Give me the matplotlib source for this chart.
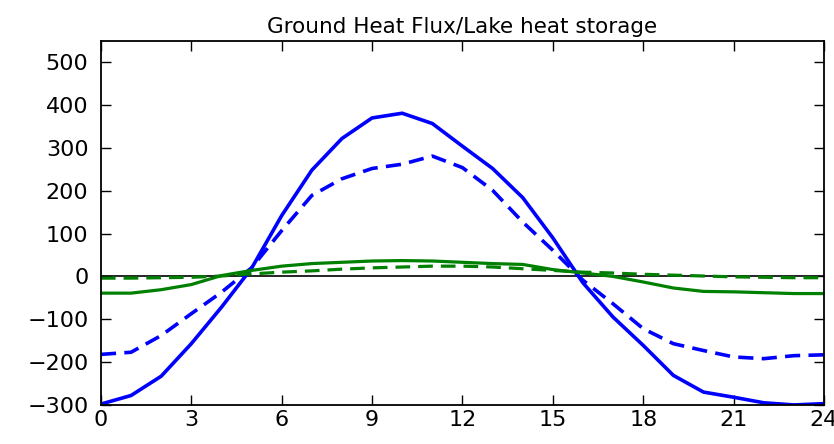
"""Ground heat flux / lake heat storage diurnal cycle."""

import matplotlib
matplotlib.use("Agg")
import matplotlib.pyplot as plt

hours = list(range(25))

# blue: lake heat storage, green: ground heat flux
lake_solid = [-298, -278, -233, -157, -72, 19, 142, 248, 322, 370, 381, 357,
              304, 252, 184, 90, -15, -95, -161, -231, -270, -282, -295, -300, -297]
lake_dashed = [-182, -177, -138, -87, -37, 20, 107, 189, 228, 252, 262, 281,
               254, 201, 127, 61, -9, -64, -122, -157, -173, -188, -192, -185, -183]
ground_solid = [-39, -39, -31, -19, 2, 14, 24, 30, 33, 36, 37, 36,
                33, 30, 28, 16, 8, 0, -13, -27, -35, -36, -38, -40, -40]
ground_dashed = [-4, -4, -3, -2, 1, 6, 10, 13, 17, 20, 22, 24,
                 24, 22, 18, 14, 10, 8, 5, 3, 1, -1, -2, -3, -3]

xticks = list(range(0, 25, 3))
yticks = list(range(-300, 501, 100))

fig = plt.figure(figsize=(8.34, 4.44), dpi=100)
ax = fig.add_axes([0.121, 0.088, 0.867, 0.82])

ax.axhline(0, color="black", linewidth=1.2)
ax.plot(hours, lake_solid, color="blue", linewidth=2.6)
ax.plot(hours, lake_dashed, color="blue", linewidth=2.6, dashes=(4.2, 2.3))
ax.plot(hours, ground_solid, color="green", linewidth=2.3)
ax.plot(hours, ground_dashed, color="green", linewidth=2.3, dashes=(4.6, 2.5))

ax.set_xlim(0, 24)
ax.set_ylim(-300, 550)
ax.set_xticks(xticks)
ax.set_yticks(yticks)
ax.tick_params(direction="in", length=7, width=1, top=True, right=True,
               labelsize=16)
ax.tick_params(axis="x", pad=4)
ax.tick_params(axis="y", pad=9)
for s in ax.spines.values():
    s.set_linewidth(1.3)
ax.set_title("Ground Heat Flux/Lake heat storage", fontsize=15.5, pad=6)

fig.savefig("out.png", dpi=100)
